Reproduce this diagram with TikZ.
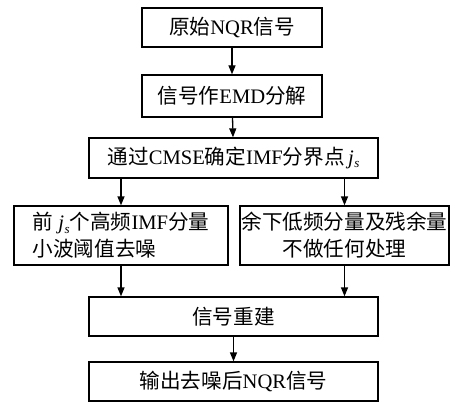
\documentclass[tikz,border=0pt]{standalone}
\usepackage{fontspec}
\setmainfont{Liberation Serif}
\newfontfamily\cjk{Noto Sans CJK SC}
\usetikzlibrary{arrows.meta,calc}
\newcommand{\js}{{\itshape j}\kern0.5pt\raisebox{-0.35ex}{\fontsize{13}{13}\selectfont\itshape s}}
\tikzset{
  box/.style={draw, line width=1.3pt, minimum height=39pt, inner sep=0pt,
    font=\fontsize{20.6}{27}\selectfont},
  flow/.style={line width=1.3pt, -{Triangle[length=9pt,width=7pt]}}
}
\begin{document}
\begin{tikzpicture}[x=1pt,y=-1pt]
\useasboundingbox (0,0) rectangle (462,403);
\node[box, minimum width=180pt] (src) at (232,27.5) {{\cjk 原始}NQR{\cjk 信号}};
\node[box, minimum width=180pt, minimum height=42pt] (emd) at (232,96) {{\cjk 信号作}EMD{\cjk 分解}};
\node[box, minimum width=289pt, minimum height=40pt] (cmse) at (233.5,158) {{\cjk 通过}CMSE{\cjk 确定}IMF{\cjk 分界点}\,\js};
\node[box, minimum width=214pt, minimum height=59pt, align=left] (hi) at (121,235.5)
  {{\cjk 前}\ \js{\cjk 个高频}IMF{\cjk 分量}\\{\cjk 小波阈值去噪}};
\node[box, minimum width=209pt, minimum height=59pt, align=center] (lo) at (344.5,235.5)
  {{\cjk 余下低频分量及残余量}\\{\cjk 不做任何处理}};
\node[box, minimum width=289pt] (rec) at (233.5,316.5) {{\cjk 信号重建}};
\node[box, minimum width=289pt] (out) at (233.5,381.5) {{\cjk 输出去噪后}NQR{\cjk 信号}};
\draw[flow] (src) -- (emd);
\draw[flow] (emd) -- (cmse);
\draw[flow] (hi.north |- cmse.south) -- (hi.north);
\draw[flow] (lo.north |- cmse.south) -- (lo.north);
\draw[flow] (hi.south) -- (hi.south |- rec.north);
\draw[flow] (lo.south) -- (lo.south |- rec.north);
\draw[flow] (rec) -- (out);
\end{tikzpicture}
\end{document}
